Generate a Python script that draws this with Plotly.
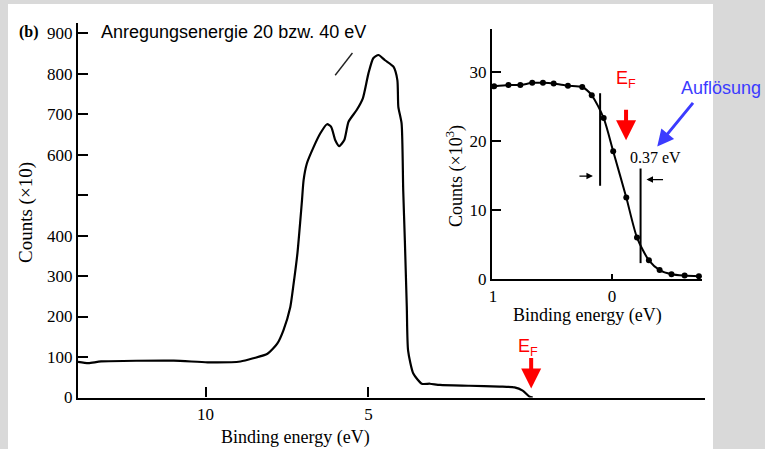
import plotly.graph_objects as go

# ---------------- data ----------------
# main spectrum: binding energy (eV) vs counts (x10)
main_be = [13.92, 13.6, 13.21, 10.98, 9.94, 8.93, 8.53, 8.10, 7.80, 7.61, 7.40, 7.31, 7.18, 7.09,
           7.04, 6.99, 6.89, 6.68, 6.48, 6.27, 6.14, 6.02, 5.90, 5.74, 5.61, 5.36, 5.17, 5.00,
           4.85, 4.69, 4.49, 4.23, 4.11, 4.08, 3.98, 3.93, 3.88, 3.82, 3.78, 3.62, 3.36,
           3.11, 2.80, 1.90, 0.97, 0.51, 0.26, 0.05, -0.05]
main_counts = [88, 85, 89, 91, 87, 89, 97, 108, 133, 166, 223, 273, 356, 438,
               487, 537, 578, 619, 652, 675, 668, 636, 621, 636, 681, 710, 739, 800,
               838, 846, 833, 817, 784, 718, 677, 512, 388, 223, 116, 59, 34,
               34, 31, 29, 27, 25, 17, 2, 0]

main_yticks = [0, 100, 200, 300, 400, 500, 600, 700, 800, 900]
main_yticktext = ["0", "100", "200", "300", "400", "", "600", "700", "800", "900"]
main_xticks = [10, 5]

# scan artefact stroke near the top of the peak
artefact_be = [6.02, 5.49]
artefact_counts = [796, 851]

# inset: Fermi edge, counts (x10^3)
inset_be = [0.99, 0.87, 0.77, 0.67, 0.58, 0.49, 0.37, 0.25, 0.17, 0.07, -0.01,
            -0.12, -0.21, -0.31, -0.40, -0.50, -0.61, -0.73]
inset_counts = [27.9, 28.1, 28.1, 28.4, 28.4, 28.3, 28.0, 27.8, 26.6, 23.3, 18.5,
                11.8, 6.0, 2.7, 1.3, 0.7, 0.5, 0.4]
inset_yticks = [0, 10, 20, 30]
inset_xticks = [1, 0]

# resolution markers (vertical bars) in the inset
res_bar_be = [0.10, -0.24]
res_bar_lo = [13.5, 2.3]
res_bar_hi = [26.9, 16.0]
res_width_label = "0.37 eV"

SERIF = "Liberation Serif"
SANS = "Liberation Sans"

fig = go.Figure()

fig.add_trace(go.Scatter(x=main_be, y=main_counts, mode="lines",
                         line=dict(color="black", width=2.2, shape="spline", smoothing=0.6),
                         xaxis="x", yaxis="y", hoverinfo="skip", showlegend=False))

fig.add_trace(go.Scatter(x=inset_be, y=inset_counts, mode="lines+markers",
                         line=dict(color="black", width=2, shape="spline", smoothing=0.7),
                         marker=dict(color="black", size=6),
                         xaxis="x2", yaxis="y2", hoverinfo="skip", showlegend=False))

W, H = 765, 449
def px(x):
    return x / W
def py(y):
    return 1 - y / H

axis_common = dict(showgrid=False, zeroline=False, showline=True, linecolor="black",
                   linewidth=2.2, ticks="inside", tickcolor="black", tickwidth=2.2,
                   automargin=False,
                   tickfont=dict(family=SERIF, size=17, color="black"))

fig.update_layout(
    width=W, height=H,
    margin=dict(l=0, r=0, t=0, b=0, autoexpand=False),
    paper_bgcolor="#d9d9d9",
    plot_bgcolor="rgba(0,0,0,0)",
    xaxis=dict(axis_common, domain=[px(78), px(705)], range=[13.92, -5.34],
               tickvals=main_xticks, ticklen=10, anchor="y"),
    yaxis=dict(axis_common, domain=[py(397.5), py(23)], range=[0, 925],
               tickvals=main_yticks, ticktext=main_yticktext, ticklen=10, anchor="x"),
    xaxis2=dict(axis_common, domain=[px(492), px(702)], range=[1.008, -0.756],
                tickvals=inset_xticks, ticklen=5, anchor="y2"),
    yaxis2=dict(axis_common, domain=[py(279), py(29)], range=[0, 36.2],
                tickvals=inset_yticks, ticklen=9, anchor="x2"),
)

# white panel
fig.add_shape(type="rect", xref="paper", yref="paper", x0=px(8), x1=px(713), y0=0, y1=py(4),
              fillcolor="white", line=dict(width=0), layer="below")

# artefact stroke
fig.add_shape(type="line", xref="x", yref="y", x0=artefact_be[0], y0=artefact_counts[0],
              x1=artefact_be[1], y1=artefact_counts[1], line=dict(color="#222222", width=1.4))

# resolution bars
for be, lo, hi in zip(res_bar_be, res_bar_lo, res_bar_hi):
    fig.add_shape(type="line", xref="x2", yref="y2", x0=be, x1=be, y0=lo, y1=hi,
                  line=dict(color="black", width=2))

def text(x, y, s, size, family=SERIF, color="black", angle=0, xanchor="center"):
    fig.add_annotation(x=px(x), y=py(y), xref="paper", yref="paper", text=s, showarrow=False,
                       xanchor=xanchor, yanchor="middle", textangle=angle,
                       font=dict(family=family, size=size, color=color))

# axis titles
text(295, 437, "Binding energy (eV)", 18)
text(26, 212, "Counts (×10)", 19, angle=-90)
text(587, 315, "Binding energy (eV)", 18)
text(455, 176, "Counts (×10<sup>3</sup>)", 18, angle=-90)

# small black arrows
fig.add_annotation(x=res_bar_be[0] + 0.06, y=14.9, xref="x2", yref="y2", ax=-15, ay=0,
                   showarrow=True, arrowhead=2, arrowsize=1, arrowwidth=1.3, arrowcolor="black", text="")
fig.add_annotation(x=res_bar_be[1] - 0.05, y=14.4, xref="x2", yref="y2", ax=18, ay=0,
                   showarrow=True, arrowhead=2, arrowsize=1, arrowwidth=1.3, arrowcolor="black", text="")
text(655, 157, res_width_label, 16)

# E_F markers (red)
fig.add_annotation(x=-0.118, y=20.1, xref="x2", yref="y2", ax=0, ay=-32,
                   showarrow=True, arrowhead=2, arrowsize=1.0, arrowwidth=4, arrowcolor="red", text="")
text(626, 80, "E<sub>F</sub>", 18, family=SANS, color="red")
fig.add_annotation(x=0.0, y=22, xref="x", yref="y", ax=0, ay=-32,
                   showarrow=True, arrowhead=2, arrowsize=1.0, arrowwidth=4, arrowcolor="red", text="")
text(528, 347, "E<sub>F</sub>", 18, family=SANS, color="red")

# Auflösung (blue)
fig.add_annotation(x=-0.38, y=19.2, xref="x2", yref="y2", ax=37, ay=-45,
                   showarrow=True, arrowhead=2, arrowsize=1.1, arrowwidth=3, arrowcolor="#3b3bff", text="")
text(721, 88, "Auflösung", 18, family=SANS, color="#3b3bff")

# title text and panel label
text(99, 32, "Anregungsenergie 20 bzw. 40 eV", 18, family=SANS, xanchor="left")
text(17, 32, "<b>(b)</b>", 16, xanchor="left")

fig.write_html("out.html")
